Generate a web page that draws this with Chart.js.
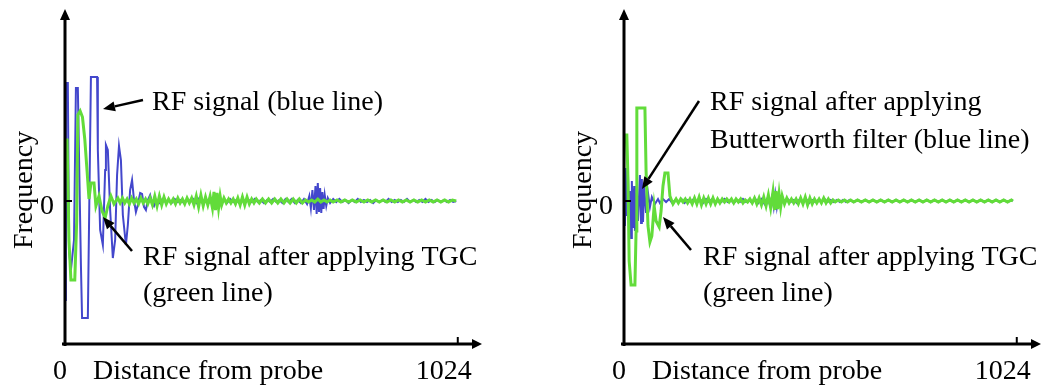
<!DOCTYPE html>
<html>
<head>
<meta charset="utf-8">
<script src="https://cdn.jsdelivr.net/npm/chart.js@4.4.1/dist/chart.umd.min.js"></script>
<style>
html, body { margin:0; padding:0; background:#fff; overflow:hidden; }
#wrap { position:relative; width:1046px; height:391px; overflow:hidden; }
canvas { position:absolute; top:0; }
#left { left:0; }
#right { left:559px; }
</style>
</head>
<body>
<div id="wrap">
	<canvas id="left" width="559" height="391"></canvas>
	<canvas id="right" width="559" height="391"></canvas>
</div>
<script>
// x = sample index from the probe (0..1024), y = signal amplitude (0 = baseline)
var xMin = 0, xMax = 1087, yMin = -143, yMax = 191;
var xTicks = [0, 1024], xTickLabels = ['0', '1024'];
var yTicks = [0], yTickLabels = ['0'];
var xTitle = 'Distance from probe', yTitle = 'Frequency';

// left panel: raw RF (blue) and RF after TGC (green)
var leftBlue = [[0,0],[3,-99],[5,118],[10,118],[13,-49],[18,-69],[26,-39],[31,113],[36,113],[44,-64],[47,-117],[62,-117],
	[70,124],[86,124],[88,51],[94,-29],[101,-44],[107,31],[109,56],[114,51],[120,-9],[127,-57],[133,-39],[138,26],[143,55],
	[148,41],[153,-14],[161,-44],[166,-24],[172,11],[177,21],[182,1],[187,-11],[192,-4],[198,8],[203,7],[208,-6],[213,-9],
	[218,1],[224,6],[229,-2],[234,-5],[240,1],[248,-2],[256,2],[264,-1],[272,1],[280,-2],[288,2],[296,-1],[304,1],[312,-2],
	[320,1],[328,-1],[336,2],[344,-2],[352,3],[360,-2],[368,2],[376,-2],[384,2],[392,-2],[400,2],[408,-1],[416,1],[424,-2],
	[432,2],[440,-1],[448,1],[456,-2],[464,2],[472,-1],[480,1],[488,-1],[496,2],[504,-1],[512,1],[520,-2],[528,1],[536,-1],
	[544,2],[552,-1],[560,1],[568,-2],[576,2],[584,-1],[592,2],[600,-2],[608,1],[616,-2],[624,2],[632,-3],[638,5],[642,-7],
	[646,11],[650,-9],[654,15],[657,-13],[660,18],[663,-11],[666,13],[669,-12],[672,9],[675,-8],[678,6],[682,-5],[686,3],
	[692,-2],[700,2],[708,-1],[716,2],[724,-1],[732,1],[740,-2],[748,1],[756,-1],[764,2],[772,-1],[780,1],[788,-1],[796,1],
	[804,-2],[812,1],[820,-1],[828,1],[836,-1],[844,2],[852,-1],[860,1],[868,-1],[876,1],[884,-1],[892,2],[900,-1],[908,1],
	[916,-1],[924,1],[932,-1],[940,2],[948,-1],[956,1],[964,-1],[972,1],[980,-1],[988,1],[996,-1],[1004,1],[1012,-1],[1020,0]];

var leftGreen = [[0,0],[3,61],[8,61],[13,-40],[18,-79],[28,-79],[33,-20],[36,86],[42,90],[48,84],[54,62],[60,30],[65,2],
	[70,18],[78,18],[83,-5],[91,5],[99,-10],[107,-17],[114,-5],[122,5],[130,-3],[140,3],[146,-2],[152,3],[158,-2],[164,2],
	[170,-3],[176,3],[182,-2],[188,2],[194,-3],[200,3],[206,-2],[212,2],[218,-3],[224,3],[230,-4],[236,5],[242,-5],[248,5],
	[254,-4],[260,4],[266,-3],[272,2],[278,-2],[284,2],[290,-3],[296,3],[302,-2],[308,2],[314,-3],[320,3],[326,-2],[332,3],
	[338,-4],[344,5],[350,-6],[356,6],[362,-5],[368,4],[374,-4],[380,5],[386,-7],[390,9],[394,-9],[398,8],[402,-7],[406,5],
	[410,-4],[416,3],[422,-2],[428,2],[434,-2],[440,2],[446,-3],[452,3],[458,-4],[464,4],[470,-4],[476,4],[482,-3],[488,2],
	[494,-2],[500,2],[508,-2],[516,2],[524,-2],[532,2],[540,-2],[548,2],[556,-2],[564,2],[572,-2],[580,2],[588,-2],[596,2],
	[604,-2],[612,2],[620,-2],[628,1],[636,-1],[644,1],[652,-1],[660,2],[668,-1],[676,1],[684,-1],[692,1],[700,-1],[710,1],
	[720,-1],[730,1],[740,-1],[750,1],[760,-1],[770,1],[780,-1],[790,1],[800,-1],[810,1],[820,-1],[830,1],[840,-1],[850,1],
	[860,-1],[870,1],[880,-1],[890,1],[900,-1],[910,1],[920,-1],[930,1],[940,-1],[950,1],[960,-1],[970,1],[980,-1],[990,1],
	[1000,-1],[1010,1],[1020,0]];

// right panel: RF after Butterworth filter (blue) and RF after TGC (green)
var rightBlue = [[0,0],[3,20],[5,-25],[8,33],[10,-15],[13,25],[16,-30],[18,10],[21,-37],[23,20],[26,-27],[29,15],[31,-30],
	[36,8],[39,-20],[44,26],[47,-22],[49,22],[52,-21],[55,15],[60,-12],[65,8],[70,-6],[75,4],[83,-3],[91,2],[96,-2],[104,2],
	[112,-1],[120,2],[128,-2],[136,1],[144,-1],[152,2],[160,-2],[168,1],[176,-1],[184,2],[192,-2],[200,2],[208,-2],[216,2],
	[224,-1],[232,2],[240,-2],[248,1],[256,-1],[264,2],[272,-1],[280,1],[288,-2],[296,1],[304,-1],[312,2],[320,-1],[328,1],
	[336,-2],[344,2],[352,-2],[360,2],[368,-3],[376,3],[382,-4],[388,5],[392,-6],[396,7],[400,-6],[404,5],[408,-3],[414,2],
	[420,-2],[428,2],[436,-1],[444,1],[452,-2],[460,2],[468,-2],[476,2],[484,-2],[492,1],[500,-1],[508,1],[516,-1],[524,2],
	[532,-1],[540,1],[548,-1],[556,1],[564,-1],[572,1],[580,-1],[590,1],[600,-1],[610,1],[620,-1],[630,1],[640,-1],[650,1],
	[660,-1],[670,1],[680,-1],[690,1],[700,-1],[710,1],[720,-1],[730,1],[740,-1],[750,1],[760,-1],[770,1],[780,-1],[790,1],
	[800,-1],[810,1],[820,-1],[830,1],[840,-1],[850,1],[860,-1],[870,1],[880,-1],[890,1],[900,-1],[910,1],[920,-1],[930,1],
	[940,-1],[950,1],[960,-1],[970,1],[980,-1],[990,1],[1000,-1],[1010,1],[1014,0]];

var rightGreen = [[0,0],[3,66],[10,66],[13,20],[16,-60],[21,-84],[31,-84],[34,-30],[36,93],[57,93],[60,30],[65,-25],
	[70,-41],[75,-35],[81,-5],[86,-20],[94,-26],[99,-10],[104,15],[109,28],[117,28],[122,5],[130,-3],[138,2],[144,-2],
	[150,2],[156,-1],[162,2],[168,-2],[174,2],[180,-3],[186,3],[192,-3],[198,4],[204,-4],[210,3],[216,-3],[222,3],[228,-3],
	[234,3],[240,-3],[246,2],[252,-2],[258,2],[264,-1],[270,2],[276,-1],[282,2],[288,-2],[294,2],[300,-1],[306,2],[312,-2],
	[318,1],[324,-1],[330,2],[336,-2],[342,3],[348,-3],[354,3],[360,-4],[366,4],[372,-5],[378,6],[384,-7],[390,9],
	[394,-9],[398,10],[402,-8],[406,7],[410,-6],[414,5],[420,-3],[426,3],[432,-2],[438,2],[444,-2],[450,2],[456,-3],
	[462,3],[468,-3],[474,4],[480,-4],[486,3],[492,-3],[498,2],[504,-2],[510,2],[516,-2],[522,3],[528,-2],[534,2],[540,-2],
	[546,1],[552,-1],[560,1],[568,-1],[576,1],[584,-1],[592,1],[600,-1],[610,1],[620,-1],[630,1],[640,-1],[650,1],[660,-1],
	[670,1],[680,-1],[690,1],[700,-1],[710,1],[720,-1],[730,1],[740,-1],[750,1],[760,-1],[770,1],[780,-1],[790,1],[800,-1],
	[810,1],[820,-1],[830,1],[840,-1],[850,1],[860,-1],[870,1],[880,-1],[890,1],[900,-1],[910,1],[920,-1],[930,1],[940,-1],
	[950,1],[960,-1],[970,1],[980,-1],[990,1],[1000,-1],[1010,1],[1014,0]];

var BLUE = '#4347cc', GREEN = '#62dc3a';
var FONT = '28px "Liberation Serif", "Times New Roman", serif';

function toPoints( arr ){
	return arr.map( function( p ){ return { x: p[0], y: p[1] }; } );
}

function drawArrow( ctx, x1, y1, x2, y2, len, half ){
	var a = Math.atan2( y2 - y1, x2 - x1 ),
		bx = x2 - Math.cos( a ) * len,
		by = y2 - Math.sin( a ) * len;
	ctx.beginPath();
	ctx.moveTo( x1, y1 );
	ctx.lineTo( bx, by );
	ctx.stroke();
	ctx.beginPath();
	ctx.moveTo( x2, y2 );
	ctx.lineTo( bx - Math.sin( a ) * half, by + Math.cos( a ) * half );
	ctx.lineTo( bx + Math.sin( a ) * half, by - Math.cos( a ) * half );
	ctx.closePath();
	ctx.fill();
} // drawArrow

// axes with arrow heads, tick labels, titles and the callouts
var decorations = {
	id: 'decorations',
	afterDatasetsDraw: function( chart, args, opts ){
		var ctx = chart.ctx,
			xs = chart.scales.x,
			ys = chart.scales.y,
			area = chart.chartArea,
			ax = area.left + 1,
			ay = area.bottom;

		ctx.save();
		ctx.strokeStyle = '#000';
		ctx.fillStyle = '#000';

		// axis lines
		ctx.lineWidth = 3;
		drawArrow( ctx, ax, ay + 2, ax, area.top - 1, 11, 5 );
		drawArrow( ctx, ax - 3, ay, area.right, ay, 10, 5 );

		// tick marks
		ctx.lineWidth = 2;
		for( var i = 0; i < xTicks.length; i++ ){
			if( xTicks[ i ] == 0 ) continue;
			var px = xs.getPixelForValue( xTicks[ i ] );
			ctx.beginPath(); ctx.moveTo( px, ay - 7 ); ctx.lineTo( px, ay ); ctx.stroke();
		}
		for( var j = 0; j < yTicks.length; j++ ){
			var py = ys.getPixelForValue( yTicks[ j ] );
			ctx.beginPath(); ctx.moveTo( ax, py ); ctx.lineTo( ax + 7, py ); ctx.stroke();
		}

		// tick labels
		ctx.font = FONT;
		ctx.textBaseline = 'alphabetic';
		ctx.textAlign = 'center';
		var shift = [ -4, -14 ];
		for( var k = 0; k < xTicks.length; k++ ){
			ctx.fillText( xTickLabels[ k ], xs.getPixelForValue( xTicks[ k ] ) + shift[ k ], ay + 35 );
		}
		ctx.textAlign = 'right';
		for( var m = 0; m < yTicks.length; m++ ){
			ctx.fillText( yTickLabels[ m ], ax - 11, ys.getPixelForValue( yTicks[ m ] ) + 13 );
		}

		// axis titles
		ctx.textAlign = 'left';
		ctx.fillText( xTitle, 93, ay + 35 );
		ctx.save();
		ctx.translate( 32, 190 );
		ctx.rotate( -Math.PI / 2 );
		ctx.textAlign = 'center';
		ctx.fillText( yTitle, 0, 0 );
		ctx.restore();

		// callouts
		ctx.textAlign = 'left';
		opts.texts.forEach( function( t ){ ctx.fillText( t[0], t[1], t[2] ); } );
		ctx.lineWidth = 2.5;
		opts.arrows.forEach( function( a ){ drawArrow( ctx, a[0], a[1], a[2], a[3], 12, 5 ); } );
		ctx.restore();
	}
};

function makePanel( id, blue, green, notes ){
	return new Chart( document.getElementById( id ).getContext( '2d' ), {
		type: 'line',
		data: {
			datasets: [
				{ label: 'green', data: toPoints( green ), borderColor: GREEN, borderWidth: 3, pointRadius: 0, tension: 0, fill: false },
				{ label: 'blue', data: toPoints( blue ), borderColor: BLUE, borderWidth: 2, pointRadius: 0, tension: 0, fill: false }
			]
		},
		options: {
			responsive: false,
			animation: false,
			events: [],
			layout: { padding: { left: 64, top: 10, right: 77, bottom: 47 } },
			scales: {
				x: { type: 'linear', min: xMin, max: xMax, display: false },
				y: { type: 'linear', min: yMin, max: yMax, display: false }
			},
			plugins: {
				legend: { display: false },
				tooltip: { enabled: false },
				decorations: notes
			}
		},
		plugins: [ decorations ]
	} );
}

makePanel( 'left', leftBlue, leftGreen, {
	texts: [ [ 'RF signal (blue line)', 152, 110 ], [ 'RF signal after applying TGC', 143, 265 ], [ '(green line)', 143, 301 ] ],
	arrows: [ [ 143, 100, 103, 109 ], [ 132, 251, 103, 217 ] ]
} );

makePanel( 'right', rightBlue, rightGreen, {
	texts: [ [ 'RF signal after applying', 151, 110 ], [ 'Butterworth filter (blue line)', 151, 148 ],
		[ 'RF signal after applying TGC', 144, 265 ], [ '(green line)', 144, 301 ] ],
	arrows: [ [ 140, 101, 83, 189 ], [ 132, 250, 104, 217 ] ]
} );
</script>
</body>
</html>
